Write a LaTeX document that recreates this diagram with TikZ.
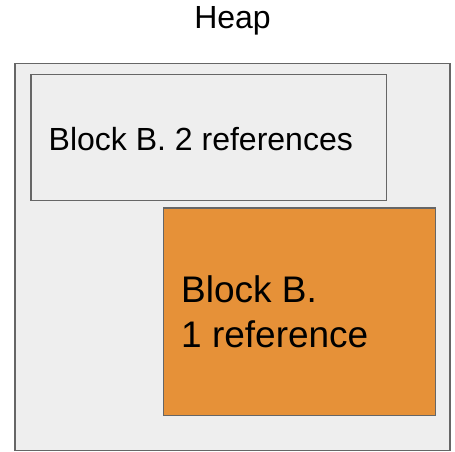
\documentclass[tikz,border=0pt]{standalone}
\usepackage{fontspec}
\setmainfont{Liberation Sans}
\definecolor{heapfill}{HTML}{EEEEEE}
\definecolor{edgegray}{HTML}{666666}
\definecolor{blockorange}{HTML}{E69138}
\begin{document}
\begin{tikzpicture}[x=1pt,y=-1pt,
  region/.style={draw=edgegray, line width=1.5pt, fill=heapfill},
  blockbox/.style={draw=edgegray, line width=1.5pt, fill=#1},
  label/.style={inner sep=0pt, text=black}]
  \useasboundingbox (0,0) rectangle (455,452);
  % heap area
  \draw[region] (15,63.5) rectangle (450,450.5);
  \coordinate (heapnw) at (15,63.5);
  \node[label, anchor=base, font=\fontsize{32}{38}\selectfont] (heaptitle) at (232.5,28.3) {Heap};
  % block with two references
  \draw[blockbox=heapfill] (31,74.3) rectangle (386.3,200.7);
  \node[label, anchor=base west, font=\fontsize{32}{38}\selectfont] (blocktwo) at (48.5,150) {Block B. 2 references};
  % block with one reference
  \draw[blockbox=blockorange] (163.3,207.8) rectangle (435.7,415.3);
  \node[label, anchor=base west, font=\fontsize{37}{44.6}\selectfont] (blockone1) at (181,302.7) {Block B.};
  \node[label, anchor=base west, font=\fontsize{37}{44.6}\selectfont] (blockone2) at (181,347.3) {1 reference};
\end{tikzpicture}
\end{document}
